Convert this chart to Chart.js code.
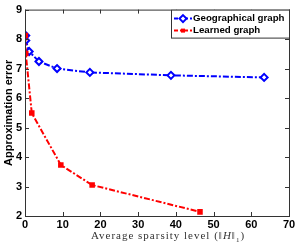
<!DOCTYPE html>
<html>
<head>
<meta charset="utf-8">
<script src="https://cdn.jsdelivr.net/npm/chart.js@4"></script>
<style>
  html, body { margin: 0; padding: 0; background: #fff; }
  #wrap { width: 300px; height: 245px; position: relative; }
</style>
</head>
<body>
<div id="wrap"><canvas id="chart" width="300" height="245"></canvas></div>
<script>
const geoX = [0.2, 0.2, 1.1, 3.7, 8.5, 17.2, 38.7, 63.4];
const geoY = [8.12, 7.95, 7.58, 7.24, 7.0, 6.87, 6.77, 6.70];
const learnedX = [0.1, 0.2, 1.8, 9.5, 17.8, 46.4];
const learnedY = [8.12, 7.51, 5.49, 3.73, 3.05, 2.14];
const xTicks = [0, 10, 20, 30, 40, 50, 60, 70];
const yTicks = [2, 3, 4, 5, 6, 7, 8, 9];
const seriesNames = ["Geographical graph", "Learned graph"];

const toPoints = (xs, ys) => xs.map((x, i) => ({ x: x, y: ys[i] }));
const tickFont = { family: "Liberation Sans", size: 11, weight: "bold" };

// box around the plot with inward ticks, like matlab
const frame = {
  id: "frame",
  afterDraw(chart) {
    const c = chart.ctx, a = chart.chartArea;
    const xs = chart.scales.x, ys = chart.scales.y;
    c.save();
    c.strokeStyle = "#333";
    c.lineWidth = 1;
    c.strokeRect(a.left + 0.5, a.top + 0.5, a.right - a.left, a.bottom - a.top);
    c.beginPath();
    xTicks.forEach(v => {
      const px = Math.round(xs.getPixelForValue(v)) + 0.5;
      c.moveTo(px, a.bottom); c.lineTo(px, a.bottom - 4);
      c.moveTo(px, a.top); c.lineTo(px, a.top + 4);
    });
    yTicks.forEach(v => {
      const py = Math.round(ys.getPixelForValue(v)) + 0.5;
      c.moveTo(a.left, py); c.lineTo(a.left + 4, py);
      c.moveTo(a.right, py); c.lineTo(a.right - 4, py);
    });
    c.stroke();

    // legend
    const lx = 171, ly = a.top, lw = a.right - lx, lh = 28;
    c.fillStyle = "#fff";
    c.fillRect(lx, ly, lw, lh);
    c.strokeRect(lx + 0.5, ly + 0.5, lw, lh);
    c.font = "bold 9.7px 'Liberation Sans'";
    c.textBaseline = "middle";
    chart.data.datasets.forEach((ds, i) => {
      const y = ly + 9 + i * 12;
      c.strokeStyle = ds.borderColor;
      c.lineWidth = 2;
      c.setLineDash([4, 2, 2, 2]);
      c.beginPath(); c.moveTo(lx + 3, y); c.lineTo(lx + 21, y); c.stroke();
      c.setLineDash([]);
      c.fillStyle = ds.borderColor;
      if (i === 0) {
        c.beginPath();
        c.moveTo(lx + 12, y - 3.5); c.lineTo(lx + 15.5, y);
        c.lineTo(lx + 12, y + 3.5); c.lineTo(lx + 8.5, y);
        c.closePath();
        c.fillStyle = "#fff"; c.fill();
        c.lineWidth = 2; c.stroke();
      } else {
        c.fillRect(lx + 10, y - 2, 4, 4);
      }
      c.fillStyle = "#000";
      c.fillText(seriesNames[i], lx + 22, y);
    });

    // x axis title, latex look: Average sparsity level (||H||_1)
    const parts = [
      { t: "Average sparsity level (\u2016", f: "11px 'Liberation Serif'", dy: 0 },
      { t: "H", f: "italic 11px 'Liberation Serif'", dy: 0 },
      { t: "\u2016", f: "11px 'Liberation Serif'", dy: 0 },
      { t: "1", f: "7px 'Liberation Serif'", dy: 3 },
      { t: ")", f: "11px 'Liberation Serif'", dy: 0 }
    ];
    c.letterSpacing = "1px";
    c.textBaseline = "alphabetic";
    c.textAlign = "left";
    c.fillStyle = "#333";
    let total = 0;
    parts.forEach(p => { c.font = p.f; p.w = c.measureText(p.t).width; total += p.w; });
    let tx = 168 - total / 2;
    parts.forEach(p => { c.font = p.f; c.fillText(p.t, tx, 239 + p.dy); tx += p.w; });
    c.restore();
  }
};

new Chart(document.getElementById("chart"), {
  type: "scatter",
  data: {
    datasets: [
      {
        label: seriesNames[0],
        data: toPoints(geoX, geoY),
        showLine: true,
        borderColor: "#0000ff",
        backgroundColor: "#0000ff",
        borderWidth: 2,
        borderDash: [6, 2, 2, 2],
        pointStyle: "rectRot",
        pointRadius: 3.5,
        pointBackgroundColor: "#fff",
        pointBorderWidth: 2,
        order: 1
      },
      {
        label: seriesNames[1],
        data: toPoints(learnedX, learnedY),
        showLine: true,
        borderColor: "#ff0000",
        backgroundColor: "#ff0000",
        borderWidth: 2,
        borderDash: [6, 2, 2, 2],
        pointStyle: "rect",
        pointRadius: 2.5,
        order: 0
      }
    ]
  },
  options: {
    responsive: false,
    animation: false,
    layout: { padding: { top: 9, right: 11, left: 0, bottom: 0 } },
    plugins: { legend: { display: false }, tooltip: { enabled: false } },
    scales: {
      x: {
        type: "linear", min: 0, max: 70,
        afterBuildTicks: s => { s.ticks = xTicks.map(v => ({ value: v })); },
        afterFit: s => { s.height = 29; },
        grid: { display: false, drawTicks: false },
        border: { display: false },
        ticks: { color: "#000", font: tickFont, padding: 2 },
        title: { display: false }
      },
      y: {
        type: "linear", min: 2, max: 9,
        afterBuildTicks: s => { s.ticks = yTicks.map(v => ({ value: v })); },
        afterFit: s => { s.width = 25; },
        grid: { display: false, drawTicks: false },
        border: { display: false },
        ticks: { color: "#000", font: tickFont, padding: 3 },
        title: {
          display: true,
          text: "Approximation error",
          color: "#000",
          font: { family: "Liberation Sans", size: 11, weight: "bold" },
          padding: { top: 2, bottom: 0 }
        }
      }
    }
  },
  plugins: [frame]
});
</script>
</body>
</html>
